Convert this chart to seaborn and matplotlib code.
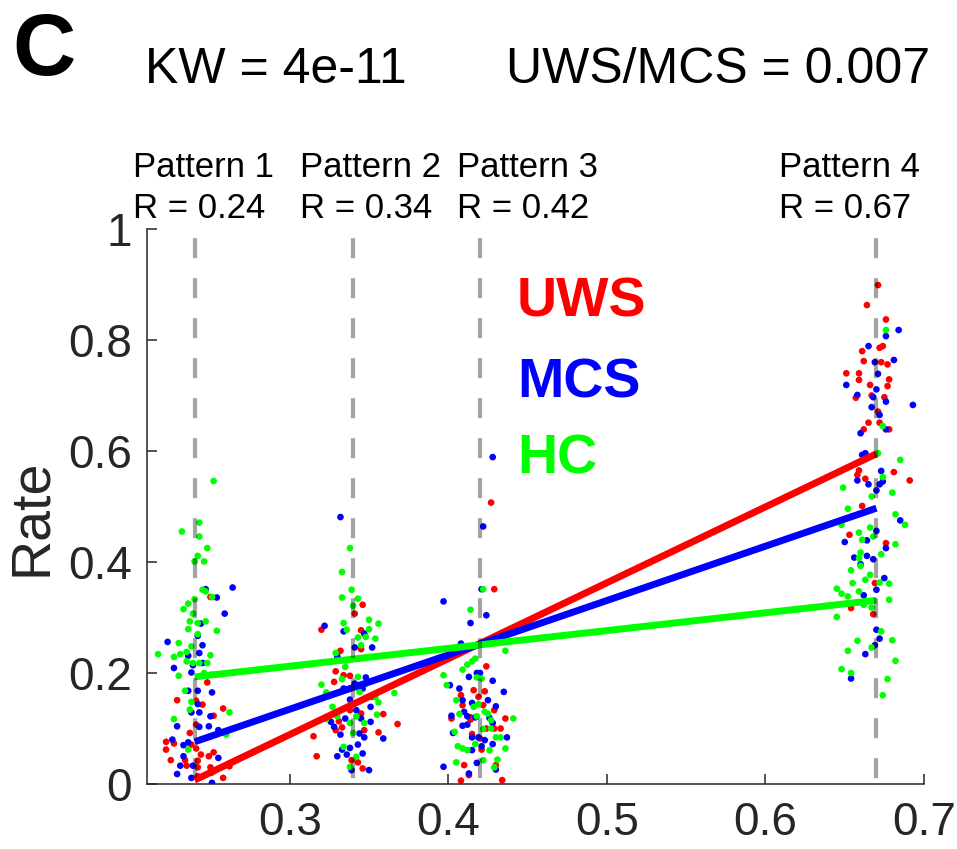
import matplotlib
matplotlib.use("Agg")
import matplotlib.pyplot as plt
import numpy as np
import pandas as pd
import seaborn as sns

# ---------------------------------------------------------------------------
# Data
# ---------------------------------------------------------------------------
groups = ["UWS", "MCS", "HC"]
group_colors = ["#ff0000", "#0000ff", "#00ff00"]

pattern_names = ["Pattern 1", "Pattern 2", "Pattern 3", "Pattern 4"]
pattern_r = [0.24, 0.34, 0.42, 0.67]

# Per-subject occurrence rates (x = jittered pattern correlation R)
uws_x = [
    # pattern 1
    0.250, 0.248, 0.229, 0.241, 0.245, 0.258, 0.252, 0.241, 0.237, 0.222,
    0.227, 0.222, 0.238, 0.241, 0.252, 0.249, 0.244, 0.225, 0.234, 0.242,
    0.235, 0.242, 0.250, 0.262, 0.250, 0.258, 0.242,
    # pattern 2
    0.346, 0.341, 0.320, 0.345, 0.332, 0.345, 0.329, 0.334, 0.338, 0.328,
    0.338, 0.345, 0.359, 0.331, 0.333, 0.329, 0.347, 0.356, 0.368, 0.315,
    0.317, 0.339, 0.343, 0.346, 0.352,
    # pattern 3
    0.427, 0.429, 0.424, 0.416, 0.423, 0.408, 0.419, 0.409, 0.422, 0.429,
    0.414, 0.402, 0.436, 0.414, 0.429, 0.433, 0.424, 0.415, 0.420, 0.421,
    0.410, 0.430, 0.413, 0.408, 0.434,
    # pattern 4
    0.671, 0.664, 0.676, 0.661, 0.672, 0.674, 0.662, 0.673, 0.677, 0.651,
    0.659, 0.659, 0.678, 0.666, 0.677, 0.657, 0.667, 0.675, 0.671, 0.665,
    0.672, 0.662, 0.678, 0.659, 0.658, 0.663, 0.681, 0.691, 0.661, 0.653,
    0.676, 0.669, 0.654, 0.668,
]
uws_y = [
    0.337, 0.183, 0.151, 0.150, 0.143, 0.136, 0.123, 0.107, 0.092, 0.076,
    0.073, 0.062, 0.071, 0.064, 0.057, 0.050, 0.053, 0.043, 0.043, 0.042,
    0.033, 0.030, 0.030, 0.032, 0.022, 0.011, 0.014,
    0.323, 0.307, 0.278, 0.277, 0.240, 0.243, 0.203, 0.196, 0.195, 0.184,
    0.133, 0.127, 0.126, 0.113, 0.102, 0.097, 0.097, 0.093, 0.108, 0.086,
    0.050, 0.043, 0.039, 0.028, 0.157,
    0.507, 0.351, 0.212, 0.169, 0.167, 0.160, 0.157, 0.142, 0.142, 0.133,
    0.120, 0.118, 0.118, 0.116, 0.100, 0.100, 0.100, 0.090, 0.082, 0.062,
    0.034, 0.034, 0.016, 0.006, 0.007,
    0.899, 0.863, 0.837, 0.780, 0.786, 0.789, 0.762, 0.760, 0.756, 0.740,
    0.740, 0.728, 0.729, 0.719, 0.717, 0.696, 0.700, 0.697, 0.671, 0.651,
    0.651, 0.639, 0.639, 0.565, 0.557, 0.550, 0.562, 0.547, 0.501, 0.449,
    0.434, 0.362, 0.317, 0.306,
]

mcs_x = [
    0.264, 0.247, 0.254, 0.259, 0.244, 0.242, 0.223, 0.245, 0.243, 0.236,
    0.239, 0.227, 0.238, 0.245, 0.236, 0.251, 0.242, 0.242, 0.238, 0.243,
    0.250, 0.229, 0.243, 0.249, 0.255, 0.226, 0.236, 0.233, 0.233, 0.255,
    0.231, 0.239, 0.229, 0.238, 0.251, 0.251,
    0.332, 0.322, 0.334, 0.347, 0.341, 0.352, 0.330, 0.348, 0.334, 0.346,
    0.341, 0.338, 0.348, 0.351, 0.342, 0.335, 0.345, 0.326, 0.351, 0.328,
    0.332, 0.344, 0.347, 0.359, 0.343, 0.338, 0.333, 0.336, 0.330, 0.346,
    0.350, 0.339,
    0.428, 0.422, 0.421, 0.397, 0.424, 0.414, 0.408, 0.413, 0.418, 0.420,
    0.428, 0.401, 0.407, 0.435, 0.425, 0.409, 0.415, 0.430, 0.410, 0.402,
    0.412, 0.426, 0.417, 0.428, 0.409, 0.412, 0.403, 0.437, 0.415, 0.419,
    0.423, 0.428, 0.415, 0.421, 0.430, 0.397, 0.418, 0.413,
    0.684, 0.676, 0.665, 0.681, 0.669, 0.671, 0.651, 0.670, 0.658, 0.668,
    0.676, 0.693, 0.667, 0.672, 0.676, 0.660, 0.661, 0.663, 0.673, 0.658,
    0.674, 0.665, 0.672, 0.670, 0.685, 0.670, 0.650, 0.664, 0.676, 0.656,
    0.664, 0.668, 0.660, 0.675, 0.670, 0.662, 0.670, 0.672, 0.669, 0.663,
    0.654,
]
mcs_y = [
    0.354, 0.351, 0.336, 0.307, 0.289, 0.267, 0.256, 0.250, 0.236, 0.231,
    0.214, 0.209, 0.201, 0.218, 0.168, 0.165, 0.168, 0.144, 0.129, 0.129,
    0.122, 0.104, 0.103, 0.104, 0.097, 0.080, 0.075, 0.070, 0.050, 0.047,
    0.033, 0.033, 0.018, 0.011, 0.021, 0.002,
    0.481, 0.285, 0.275, 0.271, 0.246, 0.246, 0.230, 0.192, 0.172, 0.172,
    0.181, 0.152, 0.155, 0.139, 0.133, 0.118, 0.118, 0.112, 0.112, 0.103,
    0.089, 0.091, 0.084, 0.082, 0.071, 0.065, 0.062, 0.053, 0.050, 0.055,
    0.025, 0.025,
    0.589, 0.464, 0.351, 0.329, 0.304, 0.290, 0.253, 0.193, 0.200, 0.200,
    0.186, 0.178, 0.172, 0.166, 0.151, 0.151, 0.146, 0.140, 0.130, 0.123,
    0.122, 0.119, 0.120, 0.110, 0.105, 0.107, 0.092, 0.084, 0.084, 0.084,
    0.079, 0.072, 0.061, 0.068, 0.026, 0.031, 0.038, 0.019,
    0.818, 0.807, 0.789, 0.764, 0.760, 0.739, 0.719, 0.711, 0.701, 0.697,
    0.689, 0.683, 0.679, 0.665, 0.639, 0.632, 0.593, 0.596, 0.564, 0.547,
    0.545, 0.540, 0.540, 0.529, 0.475, 0.456, 0.436, 0.439, 0.425, 0.408,
    0.411, 0.405, 0.396, 0.371, 0.350, 0.340, 0.278, 0.262, 0.250, 0.234,
    0.190,
]

hc_x = [
    0.252, 0.243, 0.232, 0.243, 0.248, 0.242, 0.240, 0.246, 0.245, 0.247,
    0.251, 0.240, 0.236, 0.233, 0.239, 0.237, 0.242, 0.247, 0.236, 0.254,
    0.242, 0.230, 0.238, 0.217, 0.227, 0.231, 0.235, 0.250, 0.235, 0.239,
    0.243, 0.248, 0.230, 0.246, 0.251, 0.234, 0.238, 0.237, 0.262, 0.227,
    0.260, 0.236,
    0.338, 0.333, 0.339, 0.333, 0.343, 0.340, 0.350, 0.356, 0.334, 0.336,
    0.350, 0.343, 0.348, 0.354, 0.345, 0.329, 0.335, 0.343, 0.333, 0.320,
    0.348, 0.323, 0.344, 0.354, 0.366, 0.356, 0.327, 0.330, 0.355, 0.323,
    0.342, 0.338, 0.347, 0.340, 0.334, 0.342, 0.338,
    0.422, 0.414, 0.436, 0.417, 0.415, 0.412, 0.409, 0.397, 0.418, 0.421,
    0.399, 0.405, 0.416, 0.419, 0.423, 0.425, 0.407, 0.441, 0.418, 0.427,
    0.404, 0.422, 0.427, 0.433, 0.430, 0.406, 0.409, 0.412, 0.417, 0.426,
    0.436, 0.405, 0.422, 0.431, 0.429,
    0.676, 0.674, 0.671, 0.685, 0.674, 0.649, 0.680, 0.667, 0.652, 0.682,
    0.688, 0.648, 0.666, 0.659, 0.668, 0.661, 0.682, 0.660, 0.673, 0.659,
    0.660, 0.654, 0.666, 0.663, 0.655, 0.672, 0.678, 0.645, 0.659, 0.648,
    0.652, 0.662, 0.678, 0.667, 0.645, 0.673, 0.680, 0.658, 0.667, 0.652,
    0.682, 0.648, 0.654, 0.677, 0.674,
]
hc_y = [
    0.546, 0.471, 0.455, 0.446, 0.425, 0.411, 0.401, 0.401, 0.350, 0.347,
    0.337, 0.333, 0.325, 0.315, 0.307, 0.293, 0.290, 0.293, 0.279, 0.276,
    0.270, 0.254, 0.248, 0.234, 0.229, 0.234, 0.238, 0.232, 0.221, 0.218,
    0.218, 0.218, 0.195, 0.200, 0.197, 0.168, 0.148, 0.134, 0.129, 0.117,
    0.089, 0.062,
    0.425, 0.382, 0.350, 0.336, 0.334, 0.321, 0.296, 0.289, 0.290, 0.278,
    0.279, 0.264, 0.265, 0.262, 0.250, 0.236, 0.211, 0.193, 0.189, 0.179,
    0.181, 0.165, 0.166, 0.156, 0.164, 0.147, 0.139, 0.122, 0.125, 0.117,
    0.122, 0.110, 0.110, 0.092, 0.067, 0.049, 0.031,
    0.351, 0.314, 0.240, 0.226, 0.221, 0.215, 0.206, 0.196, 0.192, 0.190,
    0.178, 0.151, 0.139, 0.144, 0.130, 0.127, 0.126, 0.118, 0.122, 0.115,
    0.094, 0.099, 0.100, 0.084, 0.084, 0.068, 0.064, 0.061, 0.072, 0.061,
    0.064, 0.039, 0.043, 0.044, 0.030,
    0.818, 0.645, 0.596, 0.584, 0.553, 0.534, 0.525, 0.518, 0.496, 0.486,
    0.467, 0.467, 0.462, 0.453, 0.446, 0.440, 0.432, 0.417, 0.414, 0.407,
    0.393, 0.385, 0.377, 0.368, 0.362, 0.363, 0.361, 0.352, 0.347, 0.343,
    0.338, 0.323, 0.332, 0.318, 0.301, 0.275, 0.259, 0.258, 0.246, 0.240,
    0.222, 0.207, 0.200, 0.189, 0.160,
]

# Linear fits of rate vs R (endpoints at first and last pattern)
fit_r = [0.24, 0.67]
fit_uws = [0.007, 0.595]
fit_mcs = [0.076, 0.497]
fit_hc = [0.193, 0.331]

kw_text = "KW = 4e-11"
pair_text = "UWS/MCS = 0.007"
panel_letter = "C"

x_ticks = [0.3, 0.4, 0.5, 0.6, 0.7]
x_tick_labels = ["0.3", "0.4", "0.5", "0.6", "0.7"]
y_ticks = [0, 0.2, 0.4, 0.6, 0.8, 1.0]
y_tick_labels = ["0", "0.2", "0.4", "0.6", "0.8", "1"]

# ---------------------------------------------------------------------------
# Tidy tables
# ---------------------------------------------------------------------------
points = pd.concat([
    pd.DataFrame({"R": uws_x, "Rate": uws_y, "Group": "UWS"}),
    pd.DataFrame({"R": mcs_x, "Rate": mcs_y, "Group": "MCS"}),
    pd.DataFrame({"R": hc_x, "Rate": hc_y, "Group": "HC"}),
], ignore_index=True)
# interleave groups by pattern so no colour sits entirely on top
points["pattern"] = points["R"].apply(
    lambda v: int(np.argmin([abs(v - p) for p in pattern_r])))
points = points.sort_values(["pattern"], kind="stable").reset_index(drop=True)

fits = pd.concat([
    pd.DataFrame({"R": fit_r, "Rate": fit_uws, "Group": "UWS"}),
    pd.DataFrame({"R": fit_r, "Rate": fit_mcs, "Group": "MCS"}),
    pd.DataFrame({"R": fit_r, "Rate": fit_hc, "Group": "HC"}),
], ignore_index=True)

palette = dict(zip(groups, group_colors))

# ---------------------------------------------------------------------------
# Figure
# ---------------------------------------------------------------------------
sns.set_style("ticks")
plt.rcParams["font.family"] = ["Liberation Sans", "DejaVu Sans"]

W, H = 957, 849
fig = plt.figure(figsize=(W / 100, H / 100), dpi=100)
ax_left, ax_right, ax_top, ax_bottom = 147, 924, 229, 784
ax = fig.add_axes([ax_left / W, 1 - ax_bottom / H,
                   (ax_right - ax_left) / W, (ax_bottom - ax_top) / H])

sns.scatterplot(data=points, x="R", y="Rate", hue="Group", palette=palette,
                s=23, linewidth=0, legend=False, ax=ax, zorder=2)

sns.lineplot(data=fits, x="R", y="Rate", hue="Group", palette=palette,
             linewidth=5, legend=False, estimator=None, sort=False, ax=ax,
             zorder=3)
for ln in ax.lines:
    ln.set_solid_capstyle("butt")

ax.vlines(pattern_r, 0, 1, colors="black", alpha=0.36, linewidth=3,
          linestyles=[(8.2, (4.8, 4.8))], zorder=4)

ax.set_xlim(0.21, 0.70)
ax.set_ylim(0, 1)
ax.set_xticks(x_ticks)
ax.set_xticklabels(x_tick_labels)
ax.set_yticks(y_ticks)
ax.set_yticklabels(y_tick_labels)

axis_gray = "#262626"
for side in ("top", "right"):
    ax.spines[side].set_visible(False)
for side in ("left", "bottom"):
    ax.spines[side].set_color(axis_gray)
    ax.spines[side].set_linewidth(1.1)
ax.tick_params(axis="both", direction="in", length=7, width=1.1,
               color=axis_gray, labelcolor=axis_gray, labelsize=33)
ax.tick_params(axis="x", pad=12)
ax.tick_params(axis="y", pad=11)

ax.set_xlabel("")
ax.set_ylabel("Rate", fontsize=40, color=axis_gray)
ax.yaxis.set_label_coords(-0.114, 0.481)

# pattern annotations above the dashed guides
label_shift = [-0.0386, -0.0336, -0.0143, -0.0613]
for name, r, dx in zip(pattern_names, pattern_r, label_shift):
    ax.text(r + dx, 1.094, name, fontsize=25, color="black",
            ha="left", va="baseline", clip_on=False)
    ax.text(r + dx, 1.020, f"R = {r:.2f}", fontsize=25, color="black",
            ha="left", va="baseline", clip_on=False)

# group key written in the group colours
key_y = [0.843, 0.696, 0.559]
for name, col, yy in zip(groups, group_colors, key_y):
    ax.text(0.4434, yy, name, fontsize=40, fontweight="bold", color=col,
            ha="left", va="baseline")

# panel letter and statistics
fig.text(12 / W, 1 - 75 / H, panel_letter, fontsize=63, fontweight="bold",
         color="black", ha="left", va="baseline")
fig.text(145 / W, 1 - 83 / H, kw_text, fontsize=36, color="black",
         ha="left", va="baseline")
fig.text(506 / W, 1 - 83 / H, pair_text, fontsize=36, color="black",
         ha="left", va="baseline")

fig.savefig("out.png", dpi=100)
